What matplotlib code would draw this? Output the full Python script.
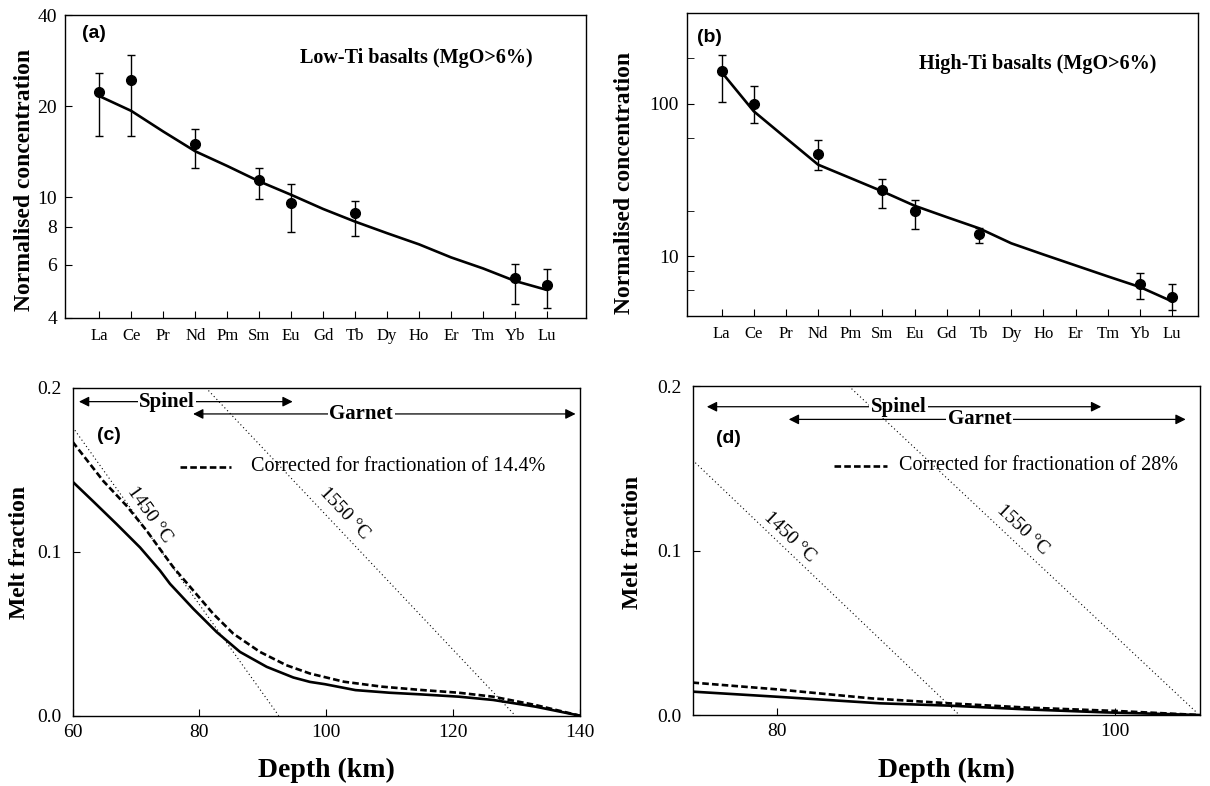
import numpy as np
import matplotlib.pyplot as plt
from matplotlib.ticker import FixedLocator, NullLocator, NullFormatter, FixedFormatter

############### Data
ree = ['La', 'Ce', 'Pr', 'Nd', 'Pm', 'Sm', 'Eu', 'Gd', 'Tb', 'Dy', 'Ho', 'Er', 'Tm', 'Yb', 'Lu']
obs_idx = [0, 1, 3, 5, 6, 8, 13, 14]

# (a) low-Ti basalts
a_obs = [22.3, 24.4, 15.0, 11.4, 9.6, 8.87, 5.41, 5.14]
a_hi = [25.7, 29.5, 16.8, 12.5, 11.1, 9.75, 6.01, 5.79]
a_lo = [16.0, 16.0, 12.5, 9.9, 7.67, 7.46, 4.45, 4.31]
a_model = [21.6, 19.3, 16.5, 14.2, 12.7, 11.3, 10.2, 9.16, 8.32, 7.62, 7.0, 6.34, 5.83, 5.3, 4.95]

# (b) high-Ti basalts
b_obs = [163.8, 100.5, 47.2, 27.1, 20.0, 14.0, 6.62, 5.46]
b_hi = [208, 131.8, 58.3, 32.4, 23.3, 15.4, 7.78, 6.58]
b_lo = [102.6, 75, 36.7, 20.8, 15.2, 12.2, 5.27, 4.47]
b_model = [162, 89.6, 59.8, 40, 32.7, 26.7, 21.5, 18.1, 15.3, 12.2, 10.3, 8.73, 7.4, 6.3, 5.07]

# (c) melt fraction vs depth, low-Ti
c_depth = [60, 63.27, 66.95, 70.63, 73.78, 75.36, 79.03, 82.72, 86.39, 90.6, 94.8, 97.43,
           99.8, 104.6, 110, 114.9, 120.9, 126.3, 133, 140]
c_melt = [0.1427, 0.1306, 0.1168, 0.1026, 0.0885, 0.0804, 0.0652, 0.051, 0.0389, 0.0298, 0.0233, 0.0206,
          0.0192, 0.0156, 0.014, 0.013, 0.0116, 0.0096, 0.0055, 0.0]
c_depth_corr = [60, 64.84, 68.53, 71.68, 73.78, 75.88, 79.03, 82.18, 85.34, 89.54, 93.69, 97.43,
                102.8, 108.8, 114.9, 120.9, 126.3, 133, 140]
c_melt_corr = [0.167, 0.1431, 0.1279, 0.1128, 0.1016, 0.0905, 0.0763, 0.0621, 0.05, 0.0389, 0.0308, 0.0257,
               0.0207, 0.0177, 0.0157, 0.014, 0.0116, 0.0065, 0.0]
c_iso1450 = ([60, 92.5], [0.176, 0.0])
c_iso1550 = ([81, 129.8], [0.2, 0.0])

# (d) melt fraction vs depth, high-Ti
d_depth = [75, 80, 86.1, 90.2, 94.8, 99.4, 105]
d_melt = [0.0142, 0.0111, 0.0071, 0.0057, 0.0034, 0.0016, 0.0]
d_depth_corr = [75, 80, 85.6, 90.2, 94.8, 100.2, 105]
d_melt_corr = [0.0197, 0.0156, 0.0101, 0.0071, 0.0045, 0.0024, 0.0]
d_iso1450 = ([75, 90.8], [0.155, 0.0])
d_iso1550 = ([84.25, 104.8], [0.2, 0.002])

############### Style
serif = ['Liberation Serif', 'DejaVu Serif']
plt.rcParams['font.family'] = serif
tick_fs = 14
lab_fs = 17
txt_fs = 14.5
dash = (0, (2.5, 1.2))
dots = (0, (1, 2.5))

W, H = 1210, 786
fig = plt.figure(figsize=(12.1, 7.86), dpi=100)


def px_axes(l, r, t, b):
    return fig.add_axes([l / W, 1 - b / H, (r - l) / W, (b - t) / H])


ax_a = px_axes(65.4, 586, 15, 318)
ax_b = px_axes(687.4, 1198.3, 13, 316)
ax_c = px_axes(72.6, 580, 387.7, 715.7)
ax_d = px_axes(692.5, 1200.2, 386, 715)

for ax in (ax_a, ax_b, ax_c, ax_d):
    ax.tick_params(direction='in', length=5, width=0.8, labelsize=tick_fs)
    for s in ax.spines.values():
        s.set_linewidth(1.0)


def fig_label(x, y, s, rot=0, size=lab_fs):
    fig.text(x / W, 1 - y / H, s, rotation=rot, ha='center', va='center', fontsize=size, fontweight='bold')


def ree_panel(ax, obs, hi, lo, model, ylim):
    x = np.arange(len(ree))
    ax.set_yscale('log')
    ax.plot(x, model, color='black', lw=1.9)
    xo = np.array(obs_idx)
    obs = np.array(obs)
    yerr = [obs - np.array(lo), np.array(hi) - obs]
    ax.errorbar(xo, obs, yerr=yerr, fmt='o', color='black', ms=7, capsize=3, elinewidth=1, capthick=1)
    ax.set_xticks(x)
    ax.set_xticklabels(ree, fontsize=12)
    ax.tick_params(axis='x', pad=7)
    ax.tick_params(axis='y', pad=6)
    ax.set_xlim(-1.06, 15.22)
    ax.set_ylim(*ylim)


############### (a)
ree_panel(ax_a, a_obs, a_hi, a_lo, a_model, (4, 40))
ax_a.yaxis.set_major_locator(FixedLocator([4, 6, 8, 10, 20, 40]))
ax_a.yaxis.set_major_formatter(FixedFormatter(['4', '6', '8', '10', '20', '40']))
ax_a.yaxis.set_minor_locator(NullLocator())
ax_a.yaxis.set_minor_formatter(NullFormatter())
ax_a.text(0.032, 0.94, '(a)', transform=ax_a.transAxes, fontsize=14, fontweight='bold',
          family=['Liberation Sans'], va='center')
ax_a.text(6.28, 28.8, 'Low-Ti basalts (MgO>6%)', fontsize=txt_fs, fontweight='bold', va='center')
fig_label(25, 179.5, 'Normalised concentration', rot=90)

############### (b)
ree_panel(ax_b, b_obs, b_hi, b_lo, b_model, (4.07, 395))
ax_b.set_xlim(-1.06, 14.81)
ax_b.yaxis.set_major_locator(FixedLocator([10, 100]))
ax_b.yaxis.set_major_formatter(FixedFormatter(['10', '100']))
ax_b.yaxis.set_minor_locator(FixedLocator([6, 8, 20, 60, 200]))
ax_b.yaxis.set_minor_formatter(NullFormatter())
ax_b.tick_params(axis='y', which='minor', direction='in', length=5)
ax_b.text(0.019, 0.92, '(b)', transform=ax_b.transAxes, fontsize=14, fontweight='bold',
          family=['Liberation Sans'], va='center')
ax_b.text(6.12, 184, 'High-Ti basalts (MgO>6%)', fontsize=txt_fs, fontweight='bold', va='center')
fig_label(625, 183, 'Normalised concentration', rot=90)


def melt_panel(ax, dep, melt, dep_c, melt_c, iso1, iso2, xlim, xticks):
    ax.plot(dep, melt, color='black', lw=1.9)
    ax.plot(dep_c, melt_c, color='black', lw=1.9, ls=dash)
    ax.plot(*iso1, color='black', lw=0.8, ls=dots)
    ax.plot(*iso2, color='black', lw=0.8, ls=dots)
    ax.set_xlim(*xlim)
    ax.set_ylim(0, 0.2)
    ax.set_xticks(xticks)
    ax.set_yticks([0.0, 0.1, 0.2])
    ax.set_yticklabels(['0.0', '0.1', '0.2'])
    ax.tick_params(axis='x', pad=6)
    ax.tick_params(axis='y', pad=8)


def span_arrow(ax, x0, x1, y, label, xl):
    ax.annotate('', xy=(x0, y), xytext=(x1, y),
                arrowprops=dict(arrowstyle='<|-|>', color='black', lw=0.9, mutation_scale=15,
                                shrinkA=0, shrinkB=0))
    ax.text(xl, y, label, fontsize=15, fontweight='bold', ha='center', va='center',
            bbox=dict(facecolor='white', edgecolor='none', pad=1))


def iso_label(ax, iso, x, y, s):
    p0 = ax.transData.transform((iso[0][0], iso[1][0]))
    p1 = ax.transData.transform((iso[0][1], iso[1][1]))
    ang = np.degrees(np.arctan2(p1[1] - p0[1], p1[0] - p0[0]))
    ax.text(x, y, s, fontsize=14, rotation=ang, ha='center', va='center', rotation_mode='anchor')


############### (c)
melt_panel(ax_c, c_depth, c_melt, c_depth_corr, c_melt_corr, c_iso1450, c_iso1550, (60, 140),
           [60, 80, 100, 120, 140])
span_arrow(ax_c, 61, 94.7, 0.1915, 'Spinel', 74.9)
span_arrow(ax_c, 79, 139.3, 0.184, 'Garnet', 105.5)
ax_c.text(63.9, 0.171, '(c)', fontsize=14, fontweight='bold', family=['Liberation Sans'], va='center')
ax_c.plot([76.9, 85.0], [0.1518, 0.1518], color='black', lw=1.9, ls=dash)
ax_c.text(88.2, 0.1518, 'Corrected for fractionation of 14.4%', fontsize=txt_fs, va='center')
iso_label(ax_c, c_iso1450, 72.1, 0.1224, '1450 °C')
iso_label(ax_c, c_iso1550, 102.8, 0.1235, '1550 °C')
fig_label(20, 552, 'Melt fraction', rot=90)
fig_label(326, 770, 'Depth (km)', size=20)

############### (d)
melt_panel(ax_d, d_depth, d_melt, d_depth_corr, d_melt_corr, d_iso1450, d_iso1550, (75, 105.06),
           [80, 100])
span_arrow(ax_d, 75.85, 99.2, 0.1874, 'Spinel', 87.2)
span_arrow(ax_d, 80.7, 104.2, 0.1797, 'Garnet', 92.0)
ax_d.text(76.4, 0.168, '(d)', fontsize=14, fontweight='bold', family=['Liberation Sans'], va='center')
ax_d.plot([83.4, 86.5], [0.1514, 0.1514], color='black', lw=1.9, ls=dash)
ax_d.text(87.2, 0.1514, 'Corrected for fractionation of 28%', fontsize=txt_fs, va='center')
iso_label(ax_d, d_iso1450, 80.77, 0.108, '1450 °C')
iso_label(ax_d, d_iso1550, 94.57, 0.1125, '1550 °C')
fig_label(633, 542, 'Melt fraction', rot=90)
fig_label(946, 770, 'Depth (km)', size=20)

fig.savefig('out.png', dpi=100)
